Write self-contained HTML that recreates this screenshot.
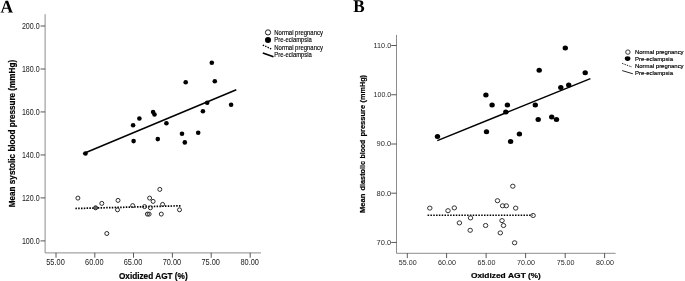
<!DOCTYPE html>
<html><head><meta charset="utf-8"><title>Figure</title>
<style>
html,body{margin:0;padding:0;background:#fff;}
body{width:685px;height:281px;overflow:hidden;font-family:"Liberation Sans",sans-serif;}
svg text{font-family:"Liberation Sans",sans-serif;}
svg text.serif{font-family:"Liberation Serif",serif;}
</style></head><body>
<svg width="685" height="281" viewBox="0 0 685 281" style="display:block;filter:blur(0.4px)">
<rect width="685" height="281" fill="#fff"/>
<g role="img" aria-label="A"><title>A</title><path transform="translate(0.428 12.6) scale(0.008587 -0.008802)" fill="#000" d="M428 73V0H20V73L120 100L597 1352H887L1362 100L1464 73V0H867V73L1022 100L894 447H379L256 100ZM641 1150 420 557H856Z"/></g>
<g role="img" aria-label="B"><title>B</title><path transform="translate(353.215 12.047) scale(0.008392 -0.00876)" fill="#000" d="M878 1010Q878 1127 827.5 1179.0Q777 1231 661 1231H522V764H669Q776 764 827.0 820.0Q878 876 878 1010ZM979 391Q979 524 912.5 589.0Q846 654 695 654H522V110Q666 104 749 104Q866 104 922.5 175.0Q979 246 979 391ZM34 0V73L207 100V1242L34 1268V1341H685Q952 1341 1079.0 1269.5Q1206 1198 1206 1038Q1206 918 1131.0 831.0Q1056 744 930 717Q1117 698 1213.0 615.5Q1309 533 1309 391Q1309 196 1165.0 95.0Q1021 -6 752 -6L296 0Z"/></g>
<path d="M45.1 14.2V252.9H261" fill="none" stroke="#8c8c8c" stroke-width="1"/>
<path d="M40.5 26.0H45.1" stroke="#222" stroke-width="0.75"/>
<path d="M40.5 69.0H45.1" stroke="#222" stroke-width="0.75"/>
<path d="M40.5 111.95H45.1" stroke="#222" stroke-width="0.75"/>
<path d="M40.5 154.95H45.1" stroke="#222" stroke-width="0.75"/>
<path d="M40.5 197.9H45.1" stroke="#222" stroke-width="0.75"/>
<path d="M40.5 240.9H45.1" stroke="#222" stroke-width="0.75"/>
<path d="M56.0 252.9V257.7" stroke="#222" stroke-width="0.75"/>
<path d="M94.8 252.9V257.7" stroke="#222" stroke-width="0.75"/>
<path d="M133.5 252.9V257.7" stroke="#222" stroke-width="0.75"/>
<path d="M172.4 252.9V257.7" stroke="#222" stroke-width="0.75"/>
<path d="M211.2 252.9V257.7" stroke="#222" stroke-width="0.75"/>
<path d="M250.2 252.9V257.7" stroke="#222" stroke-width="0.75"/>
<text x="21.9" y="29.4" font-size="8.4" fill="#1a1a1a" textLength="17.8" lengthAdjust="spacingAndGlyphs">200.0</text>
<text x="21.9" y="72.4" font-size="8.4" fill="#1a1a1a" textLength="17.8" lengthAdjust="spacingAndGlyphs">180.0</text>
<text x="21.9" y="115.35000000000001" font-size="8.4" fill="#1a1a1a" textLength="17.8" lengthAdjust="spacingAndGlyphs">160.0</text>
<text x="21.9" y="158.35" font-size="8.4" fill="#1a1a1a" textLength="17.8" lengthAdjust="spacingAndGlyphs">140.0</text>
<text x="21.9" y="201.3" font-size="8.4" fill="#1a1a1a" textLength="17.8" lengthAdjust="spacingAndGlyphs">120.0</text>
<text x="21.9" y="244.3" font-size="8.4" fill="#1a1a1a" textLength="17.8" lengthAdjust="spacingAndGlyphs">100.0</text>
<text x="46.25" y="265.3" font-size="8.6" fill="#1a1a1a" textLength="18.5" lengthAdjust="spacingAndGlyphs">55.00</text>
<text x="85.05" y="265.3" font-size="8.6" fill="#1a1a1a" textLength="18.5" lengthAdjust="spacingAndGlyphs">60.00</text>
<text x="123.75" y="265.3" font-size="8.6" fill="#1a1a1a" textLength="18.5" lengthAdjust="spacingAndGlyphs">65.00</text>
<text x="162.65" y="265.3" font-size="8.6" fill="#1a1a1a" textLength="18.5" lengthAdjust="spacingAndGlyphs">70.00</text>
<text x="201.45" y="265.3" font-size="8.6" fill="#1a1a1a" textLength="18.5" lengthAdjust="spacingAndGlyphs">75.00</text>
<text x="240.45" y="265.3" font-size="8.6" fill="#1a1a1a" textLength="18.5" lengthAdjust="spacingAndGlyphs">80.00</text>
<text x="153.3" y="278.6" text-anchor="middle" font-size="8.2" font-weight="bold" fill="#000" stroke="#000" stroke-width="0.2" textLength="68.7" lengthAdjust="spacingAndGlyphs">Oxidized AGT (%)</text>
<text transform="translate(15.3 207.2) rotate(-90)" font-size="8.2" font-weight="bold" fill="#000" stroke="#000" stroke-width="0.2" textLength="147.3" lengthAdjust="spacingAndGlyphs">Mean systolic blood pressure (mmHg)</text>
<path d="M83 153.8L236.3 89.8" stroke="#000" stroke-width="1.5"/>
<path d="M75.4 208.5L180.6 205.8" stroke="#000" stroke-width="1.7" stroke-dasharray="1.5 1.3"/>
<circle cx="77.9" cy="198.1" r="2.0" fill="none" stroke="#2a2a2a" stroke-width="1"/>
<circle cx="95.6" cy="207.8" r="2.0" fill="#6a6a6a" stroke="#2a2a2a" stroke-width="1"/>
<circle cx="101.8" cy="203.4" r="2.0" fill="none" stroke="#2a2a2a" stroke-width="1"/>
<circle cx="106.8" cy="233.5" r="2.0" fill="none" stroke="#2a2a2a" stroke-width="1"/>
<circle cx="118" cy="200.4" r="2.0" fill="none" stroke="#2a2a2a" stroke-width="1"/>
<circle cx="117.5" cy="209.8" r="2.0" fill="none" stroke="#2a2a2a" stroke-width="1"/>
<circle cx="132.7" cy="205.6" r="2.0" fill="none" stroke="#2a2a2a" stroke-width="1"/>
<circle cx="144.6" cy="206.6" r="2.0" fill="none" stroke="#2a2a2a" stroke-width="1"/>
<circle cx="149.6" cy="198.1" r="2.0" fill="none" stroke="#2a2a2a" stroke-width="1"/>
<circle cx="153.1" cy="201.4" r="2.0" fill="none" stroke="#2a2a2a" stroke-width="1"/>
<circle cx="150.4" cy="207.8" r="2.0" fill="none" stroke="#2a2a2a" stroke-width="1"/>
<circle cx="147.4" cy="214.1" r="2.0" fill="none" stroke="#2a2a2a" stroke-width="1"/>
<circle cx="149.1" cy="214.1" r="2.0" fill="none" stroke="#2a2a2a" stroke-width="1"/>
<circle cx="159.8" cy="189.4" r="2.0" fill="none" stroke="#2a2a2a" stroke-width="1"/>
<circle cx="162.6" cy="204.4" r="2.0" fill="none" stroke="#2a2a2a" stroke-width="1"/>
<circle cx="161.3" cy="214.1" r="2.0" fill="none" stroke="#2a2a2a" stroke-width="1"/>
<circle cx="179.5" cy="209.8" r="2.0" fill="none" stroke="#2a2a2a" stroke-width="1"/>
<circle cx="85.5" cy="153.5" r="2.3" fill="#000"/>
<circle cx="133.1" cy="125.2" r="2.3" fill="#000"/>
<circle cx="133.6" cy="141.1" r="2.3" fill="#000"/>
<circle cx="139.4" cy="118.5" r="2.3" fill="#000"/>
<circle cx="153.1" cy="112.0" r="2.3" fill="#000"/>
<circle cx="154.5" cy="114.5" r="2.3" fill="#000"/>
<circle cx="157.8" cy="139.1" r="2.3" fill="#000"/>
<circle cx="166.4" cy="123.2" r="2.3" fill="#000"/>
<circle cx="182.0" cy="133.7" r="2.3" fill="#000"/>
<circle cx="184.8" cy="142.4" r="2.3" fill="#000"/>
<circle cx="185.7" cy="82.2" r="2.3" fill="#000"/>
<circle cx="198.2" cy="132.7" r="2.3" fill="#000"/>
<circle cx="202.9" cy="111.2" r="2.3" fill="#000"/>
<circle cx="207.2" cy="102.7" r="2.3" fill="#000"/>
<circle cx="211.8" cy="62.7" r="2.3" fill="#000"/>
<circle cx="214.8" cy="81.2" r="2.3" fill="#000"/>
<circle cx="231.1" cy="104.7" r="2.3" fill="#000"/>
<circle cx="268.0" cy="32.4" r="2.6" fill="#fff" stroke="#222" stroke-width="1"/>
<circle cx="268.0" cy="40.0" r="3.05" fill="#000"/>
<path d="M262.8 45.1L272 49.2" stroke="#000" stroke-width="1.4" stroke-dasharray="1.4 1.2"/>
<path d="M262.8 52.9L273.5 56.8" stroke="#000" stroke-width="1.6"/>
<text x="274.3" y="34.70" font-size="6.35" fill="#000" stroke="#000" stroke-width="0.12" textLength="48.6" lengthAdjust="spacingAndGlyphs">Normal pregnancy</text>
<text x="274.3" y="42.13" font-size="6.35" fill="#000" stroke="#000" stroke-width="0.12" textLength="37.5" lengthAdjust="spacingAndGlyphs">Pre-eclampsia</text>
<text x="274.3" y="49.56" font-size="6.35" fill="#000" stroke="#000" stroke-width="0.12" textLength="48.6" lengthAdjust="spacingAndGlyphs">Normal pregnancy</text>
<text x="274.3" y="56.99" font-size="6.35" fill="#000" stroke="#000" stroke-width="0.12" textLength="37.5" lengthAdjust="spacingAndGlyphs">Pre-eclampsia</text>
<path d="M396.5 34.9V253.3H615.6" fill="none" stroke="#8c8c8c" stroke-width="1"/>
<path d="M391.2 45.5H396.5" stroke="#222" stroke-width="0.75"/>
<path d="M391.2 94.75H396.5" stroke="#222" stroke-width="0.75"/>
<path d="M391.2 144.0H396.5" stroke="#222" stroke-width="0.75"/>
<path d="M391.2 193.2H396.5" stroke="#222" stroke-width="0.75"/>
<path d="M391.2 242.45H396.5" stroke="#222" stroke-width="0.75"/>
<path d="M407.3 253.3V258.1" stroke="#222" stroke-width="0.75"/>
<path d="M446.6 253.3V258.1" stroke="#222" stroke-width="0.75"/>
<path d="M486.1 253.3V258.1" stroke="#222" stroke-width="0.75"/>
<path d="M525.6 253.3V258.1" stroke="#222" stroke-width="0.75"/>
<path d="M565.2 253.3V258.1" stroke="#222" stroke-width="0.75"/>
<path d="M604.6 253.3V258.1" stroke="#222" stroke-width="0.75"/>
<text x="373.59999999999997" y="47.8" font-size="6.9" fill="#2a2a2a" textLength="17.6" lengthAdjust="spacingAndGlyphs">110.0</text>
<text x="373.59999999999997" y="97.05" font-size="6.9" fill="#2a2a2a" textLength="17.6" lengthAdjust="spacingAndGlyphs">100.0</text>
<text x="376.59999999999997" y="146.3" font-size="6.9" fill="#2a2a2a" textLength="14.6" lengthAdjust="spacingAndGlyphs">90.0</text>
<text x="376.59999999999997" y="195.5" font-size="6.9" fill="#2a2a2a" textLength="14.6" lengthAdjust="spacingAndGlyphs">80.0</text>
<text x="376.59999999999997" y="244.75" font-size="6.9" fill="#2a2a2a" textLength="14.6" lengthAdjust="spacingAndGlyphs">70.0</text>
<text x="398.8" y="264.7" font-size="6.9" fill="#2a2a2a" textLength="17.8" lengthAdjust="spacingAndGlyphs">55.00</text>
<text x="438.1" y="264.7" font-size="6.9" fill="#2a2a2a" textLength="17.8" lengthAdjust="spacingAndGlyphs">60.00</text>
<text x="477.6" y="264.7" font-size="6.9" fill="#2a2a2a" textLength="17.8" lengthAdjust="spacingAndGlyphs">65.00</text>
<text x="517.1" y="264.7" font-size="6.9" fill="#2a2a2a" textLength="17.8" lengthAdjust="spacingAndGlyphs">70.00</text>
<text x="556.7" y="264.7" font-size="6.9" fill="#2a2a2a" textLength="17.8" lengthAdjust="spacingAndGlyphs">75.00</text>
<text x="596.1" y="264.7" font-size="6.9" fill="#2a2a2a" textLength="17.8" lengthAdjust="spacingAndGlyphs">80.00</text>
<text x="470.9" y="278.3" font-size="7.2" font-weight="bold" fill="#000" stroke="#000" stroke-width="0.2" textLength="34.8" lengthAdjust="spacingAndGlyphs">Oxidized</text>
<text x="508.0" y="278.3" font-size="7.2" font-weight="bold" fill="#000" stroke="#000" stroke-width="0.2" textLength="17.8" lengthAdjust="spacingAndGlyphs">AGT</text>
<text x="528.1" y="278.3" font-size="7.2" font-weight="bold" fill="#000" stroke="#000" stroke-width="0.2" textLength="12.7" lengthAdjust="spacingAndGlyphs">(%)</text>
<g transform="translate(365.2 213.1) rotate(-90)">
<text x="0" y="0" font-size="6.7" font-weight="bold" fill="#000" stroke="#000" stroke-width="0.2" textLength="19.6" lengthAdjust="spacingAndGlyphs">Mean</text>
<text x="22.7" y="0" font-size="6.7" font-weight="bold" fill="#000" stroke="#000" stroke-width="0.2" textLength="29.5" lengthAdjust="spacingAndGlyphs">diastolic</text>
<text x="54.6" y="0" font-size="6.7" font-weight="bold" fill="#000" stroke="#000" stroke-width="0.2" textLength="18.8" lengthAdjust="spacingAndGlyphs">blood</text>
<text x="76.5" y="0" font-size="6.7" font-weight="bold" fill="#000" stroke="#000" stroke-width="0.2" textLength="31.7" lengthAdjust="spacingAndGlyphs">pressure</text>
<text x="110.7" y="0" font-size="6.7" font-weight="bold" fill="#000" stroke="#000" stroke-width="0.2" textLength="27.4" lengthAdjust="spacingAndGlyphs">(mmHg)</text>
</g>
<path d="M437.3 140.6L590.4 78.6" stroke="#000" stroke-width="1.5"/>
<path d="M427.6 215.2L532.5 215.2" stroke="#000" stroke-width="1.5" stroke-dasharray="1.5 1.32"/>
<ellipse cx="429.8" cy="208.1" rx="2.25" ry="2.05" fill="none" stroke="#333" stroke-width="1"/>
<ellipse cx="448.0" cy="210.7" rx="2.25" ry="2.05" fill="none" stroke="#333" stroke-width="1"/>
<ellipse cx="454.3" cy="207.9" rx="2.25" ry="2.05" fill="none" stroke="#333" stroke-width="1"/>
<ellipse cx="459.4" cy="222.9" rx="2.25" ry="2.05" fill="none" stroke="#333" stroke-width="1"/>
<ellipse cx="470.5" cy="217.9" rx="2.25" ry="2.05" fill="none" stroke="#333" stroke-width="1"/>
<ellipse cx="470.2" cy="230.3" rx="2.25" ry="2.05" fill="none" stroke="#333" stroke-width="1"/>
<ellipse cx="485.6" cy="225.5" rx="2.25" ry="2.05" fill="none" stroke="#333" stroke-width="1"/>
<ellipse cx="497.5" cy="200.7" rx="2.25" ry="2.05" fill="none" stroke="#333" stroke-width="1"/>
<ellipse cx="502.6" cy="205.8" rx="2.25" ry="2.05" fill="none" stroke="#333" stroke-width="1"/>
<ellipse cx="506.3" cy="205.8" rx="2.25" ry="2.05" fill="none" stroke="#333" stroke-width="1"/>
<ellipse cx="502.0" cy="220.6" rx="2.25" ry="2.05" fill="none" stroke="#333" stroke-width="1"/>
<ellipse cx="503.5" cy="225.5" rx="2.25" ry="2.05" fill="none" stroke="#333" stroke-width="1"/>
<ellipse cx="500.3" cy="232.9" rx="2.25" ry="2.05" fill="none" stroke="#333" stroke-width="1"/>
<ellipse cx="512.8" cy="186.2" rx="2.25" ry="2.05" fill="none" stroke="#333" stroke-width="1"/>
<ellipse cx="515.7" cy="208.1" rx="2.25" ry="2.05" fill="none" stroke="#333" stroke-width="1"/>
<ellipse cx="514.6" cy="242.8" rx="2.25" ry="2.05" fill="none" stroke="#333" stroke-width="1"/>
<ellipse cx="533.1" cy="215.5" rx="2.25" ry="2.05" fill="none" stroke="#333" stroke-width="1"/>
<ellipse cx="437.5" cy="136.5" rx="2.7" ry="2.5" fill="#000"/>
<ellipse cx="485.9" cy="95.0" rx="2.7" ry="2.5" fill="#000"/>
<ellipse cx="486.5" cy="131.7" rx="2.7" ry="2.5" fill="#000"/>
<ellipse cx="492.1" cy="104.9" rx="2.7" ry="2.5" fill="#000"/>
<ellipse cx="505.8" cy="112.0" rx="2.7" ry="2.5" fill="#000"/>
<ellipse cx="507.4" cy="104.9" rx="2.7" ry="2.5" fill="#000"/>
<ellipse cx="510.6" cy="141.4" rx="2.7" ry="2.5" fill="#000"/>
<ellipse cx="519.4" cy="134.0" rx="2.7" ry="2.5" fill="#000"/>
<ellipse cx="535.3" cy="104.9" rx="2.7" ry="2.5" fill="#000"/>
<ellipse cx="538.2" cy="119.4" rx="2.7" ry="2.5" fill="#000"/>
<ellipse cx="539.2" cy="70.3" rx="2.7" ry="2.5" fill="#000"/>
<ellipse cx="551.7" cy="116.9" rx="2.7" ry="2.5" fill="#000"/>
<ellipse cx="556.5" cy="119.4" rx="2.7" ry="2.5" fill="#000"/>
<ellipse cx="560.8" cy="87.6" rx="2.7" ry="2.5" fill="#000"/>
<ellipse cx="565.3" cy="48.1" rx="2.7" ry="2.5" fill="#000"/>
<ellipse cx="568.7" cy="85.1" rx="2.7" ry="2.5" fill="#000"/>
<ellipse cx="585.2" cy="72.8" rx="2.7" ry="2.5" fill="#000"/>
<circle cx="627.9" cy="52.1" r="2.2" fill="#fff" stroke="#222" stroke-width="0.9"/>
<ellipse cx="627.6" cy="58.6" rx="2.8" ry="2.3" fill="#000"/>
<path d="M622.2 63.4L632 67" stroke="#111" stroke-width="1" stroke-dasharray="1.3 1.2"/>
<path d="M622.2 70.6L632.9 73.8" stroke="#111" stroke-width="0.9"/>
<text x="635" y="53.80" font-size="5.2" fill="#000" stroke="#000" stroke-width="0.15" textLength="48.6" lengthAdjust="spacingAndGlyphs">Normal pregnancy</text>
<text x="635" y="60.70" font-size="5.2" fill="#000" stroke="#000" stroke-width="0.15" textLength="38.0" lengthAdjust="spacingAndGlyphs">Pre-eclampsia</text>
<text x="635" y="67.60" font-size="5.2" fill="#000" stroke="#000" stroke-width="0.15" textLength="48.6" lengthAdjust="spacingAndGlyphs">Normal pregnancy</text>
<text x="635" y="74.50" font-size="5.2" fill="#000" stroke="#000" stroke-width="0.15" textLength="38.0" lengthAdjust="spacingAndGlyphs">Pre-eclampsia</text>
</svg>
</body></html>
